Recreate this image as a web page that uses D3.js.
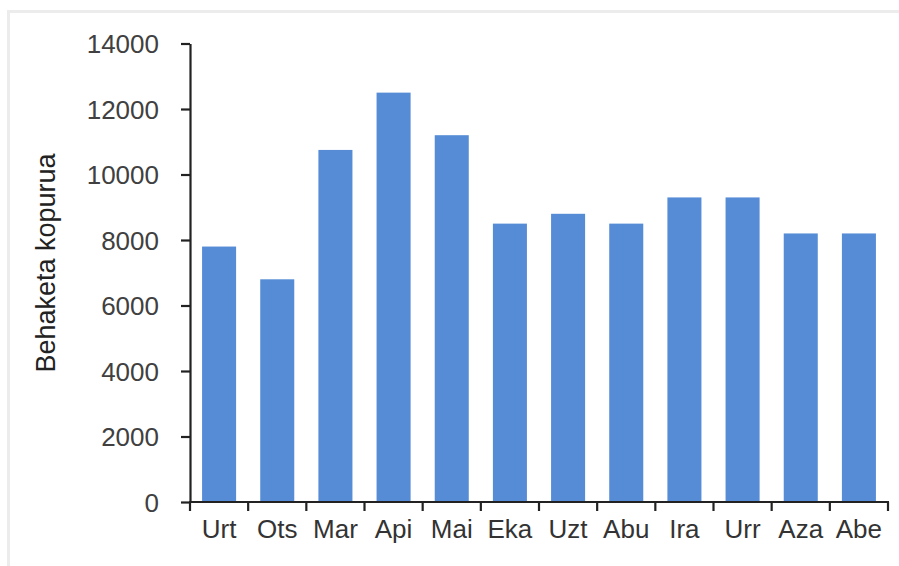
<!DOCTYPE html>
<html>
<head>
<meta charset="utf-8">
<script src="https://cdn.jsdelivr.net/npm/d3@7"></script>
<style>
    body { margin: 0; background: #fff; }
    svg text { font-family: "Liberation Sans", Arial, sans-serif; }
</style>
</head>
<body>
<div id="chart"></div>
<script>
// months (Basque) and number of observations
const months = ['Urt', 'Ots', 'Mar', 'Api', 'Mai', 'Eka', 'Uzt', 'Abu', 'Ira', 'Urr', 'Aza', 'Abe'];
const counts = [7800, 6800, 10750, 12500, 11200, 8500, 8800, 8500, 9300, 9300, 8200, 8200];
const yTicks = [0, 2000, 4000, 6000, 8000, 10000, 12000, 14000];
const yTitle = 'Behaketa kopurua';

const width = 899;
const height = 566;
const margin = { top: 43.5, right: 11, bottom: 64, left: 190 };

const svg = d3.select('#chart')
    .append('svg')
    .attr('width', width)
    .attr('height', height);

// faint frame of the original picture
svg.append('path')
    .attr('d', `M8.5,${height} V11.5 H${width}`)
    .attr('fill', 'none')
    .attr('stroke', '#ececec')
    .attr('stroke-width', 3);

const x = d3.scaleBand()
    .domain(months)
    .range([margin.left, width - margin.right])
    .paddingInner(0.415)
    .paddingOuter(0.2075);

const y = d3.scaleLinear()
    .domain([0, 14000])
    .range([height - margin.bottom, margin.top]);

// Bars
svg.append('g')
    .selectAll('rect')
    .data(months)
    .join('rect')
    .attr('x', (d) => x(d))
    .attr('y', (d, i) => y(counts[i]))
    .attr('width', x.bandwidth())
    .attr('height', (d, i) => y(0) - y(counts[i]))
    .attr('fill', '#558cd5');

// Y axis
const yAxis = d3.axisLeft(y)
    .tickValues(yTicks)
    .tickSize(9)
    .tickSizeOuter(0)
    .tickPadding(22)
    .tickFormat((v) => v);

const gy = svg.append('g')
    .attr('transform', `translate(${margin.left},0)`)
    .call(yAxis);
gy.select('.domain').attr('stroke', '#222').attr('stroke-width', 2.2);
gy.selectAll('.tick line').attr('stroke', '#222').attr('stroke-width', 2.2);
gy.selectAll('.tick text')
    .attr('fill', '#404040')
    .attr('font-size', 26)
    .attr('dy', '0.35em');

// X axis: ticks sit between the categories
const step = x.step();
const xBounds = d3.range(months.length + 1).map((i) => margin.left + i * step);

const gx = svg.append('g')
    .attr('transform', `translate(0,${y(0)})`);
gx.append('line')
    .attr('x1', margin.left - 1)
    .attr('x2', width - margin.right + 1)
    .attr('stroke', '#222')
    .attr('stroke-width', 2.2);
gx.selectAll('line.tk')
    .data(xBounds)
    .join('line')
    .attr('class', 'tk')
    .attr('x1', (d) => d)
    .attr('x2', (d) => d)
    .attr('y1', 0)
    .attr('y2', 9)
    .attr('stroke', '#222')
    .attr('stroke-width', 2.2);
gx.selectAll('text')
    .data(months)
    .join('text')
    .attr('x', (d) => x(d) + x.bandwidth() / 2)
    .attr('y', 36)
    .attr('text-anchor', 'middle')
    .attr('fill', '#333')
    .attr('font-size', 26)
    .text((d) => d);

// Y title
svg.append('text')
    .attr('transform', `translate(55,263) rotate(-90)`)
    .attr('text-anchor', 'middle')
    .attr('fill', '#222')
    .attr('font-size', 27)
    .text(yTitle);
</script>
</body>
</html>
